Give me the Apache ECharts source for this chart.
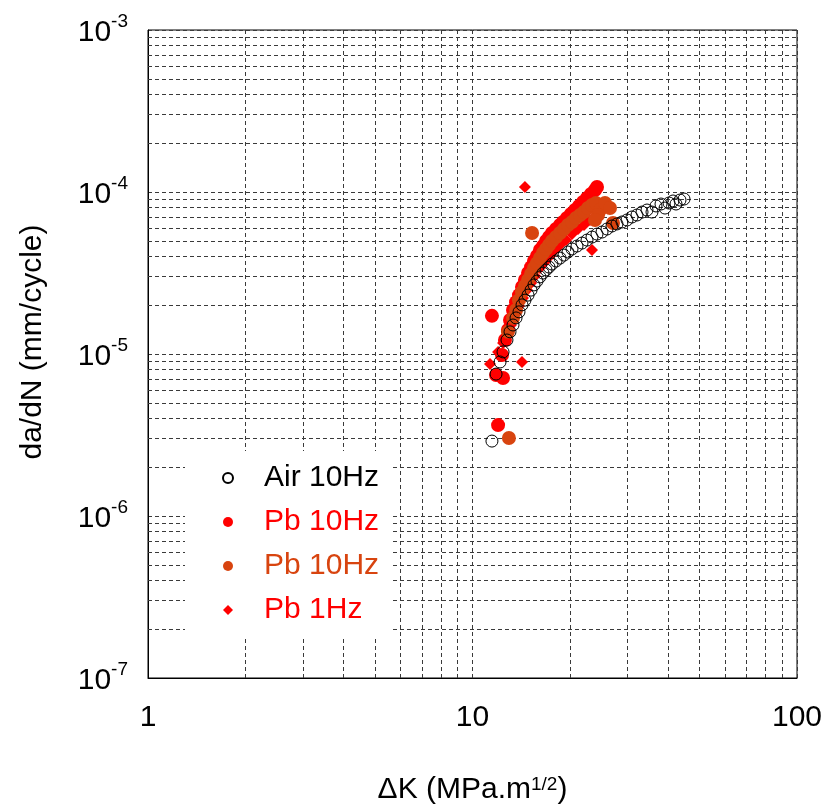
<!DOCTYPE html>
<html>
<head>
<meta charset="utf-8">
<script src="https://cdn.jsdelivr.net/npm/echarts@6/dist/echarts.min.js"></script>
<style>html,body{margin:0;padding:0;background:#fff}#c{width:826px;height:810px}</style>
</head>
<body>
<div id="c"></div>
<script>
// ΔK (MPa.m^1/2) and da/dN (mm/cycle) pairs
const airK = [11.48,11.82,12.16,12.42,12.77,13.05,13.33,13.62,13.91,14.21,14.51,14.83,15.15,15.47,15.80,16.14,16.49,16.85,17.21,17.58,18.09,18.61,19.14,19.69,20.26,20.99,21.75,22.54,23.35,24.19,25.07,25.97,26.91,27.88,28.89,29.94,31.01,32.13,33.30,34.50,35.74,36.77,38.10,39.20,40.33,41.49,42.38,43.60,44.86];
const airR = [2.90e-6,7.52e-6,8.93e-6,1.03e-5,1.22e-5,1.37e-5,1.51e-5,1.67e-5,1.82e-5,2.01e-5,2.15e-5,2.31e-5,2.48e-5,2.67e-5,2.82e-5,2.99e-5,3.16e-5,3.30e-5,3.44e-5,3.59e-5,3.75e-5,3.91e-5,4.08e-5,4.26e-5,4.45e-5,4.64e-5,4.84e-5,5.05e-5,5.27e-5,5.50e-5,5.66e-5,5.91e-5,6.17e-5,6.35e-5,6.53e-5,6.72e-5,7.01e-5,7.21e-5,7.52e-5,7.74e-5,7.52e-5,8.20e-5,8.43e-5,7.96e-5,8.55e-5,8.80e-5,8.43e-5,8.92e-5,9.05e-5];

const pbRedK = [11.48,11.99,11.82,12.42,12.33,12.59,12.86,13.05,13.33,13.62,13.91,14.21,14.51,14.83,15.15,15.47,15.80,16.14,16.49,16.85,17.21,17.58,18.09,18.61,19.01,19.55,20.11,20.70,21.29,21.91,22.54,23.19,23.85,24.19];
const pbRedR = [1.72e-5,3.64e-6,7.42e-6,7.11e-6,9.86e-6,1.22e-5,1.41e-5,1.62e-5,1.87e-5,2.09e-5,2.31e-5,2.59e-5,2.86e-5,3.16e-5,3.44e-5,3.75e-5,4.03e-5,4.39e-5,4.64e-5,4.98e-5,5.27e-5,5.58e-5,5.91e-5,6.26e-5,6.53e-5,6.91e-5,7.31e-5,7.74e-5,8.20e-5,8.68e-5,9.18e-5,9.72e-5,1.029e-4,1.074e-4];

const pbOrangeK = [12.95,15.26,12.86,13.33,13.62,13.91,14.21,14.51,14.83,15.15,15.47,15.80,16.14,16.49,16.85,17.21,17.58,18.09,18.61,19.14,19.69,20.26,20.84,21.45,22.06,22.70,23.35,24.02,24.71,25.61,26.53,27.10,24.37,23.85];
const pbOrangeR = [3.03e-6,5.58e-5,1.37e-5,1.67e-5,1.87e-5,2.15e-5,2.41e-5,2.63e-5,2.86e-5,3.12e-5,3.40e-5,3.64e-5,3.91e-5,4.20e-5,4.45e-5,4.71e-5,4.98e-5,5.27e-5,5.58e-5,5.91e-5,6.26e-5,6.53e-5,6.91e-5,7.21e-5,7.52e-5,7.96e-5,8.31e-5,8.55e-5,7.74e-5,8.55e-5,7.96e-5,6.44e-5,7.21e-5,6.72e-5];

const pb1K = [14.51,23.35,14.21,11.32,11.99,12.42,12.77,13.14,13.52,13.91,14.31,14.72,15.15,15.58,16.14,16.73,17.34,17.96,18.61,19.42,20.26,21.14,22.06,23.02,24.02];
const pb1R = [1.074e-4,4.39e-5,8.93e-6,8.68e-6,1.03e-5,1.17e-5,1.31e-5,1.51e-5,1.74e-5,1.98e-5,2.22e-5,2.48e-5,2.74e-5,3.03e-5,3.40e-5,3.70e-5,4.03e-5,4.39e-5,4.71e-5,5.05e-5,5.50e-5,5.91e-5,6.26e-5,6.72e-5,7.11e-5];

const seriesNames = ['Air 10Hz', 'Pb 10Hz', 'Pb 10Hz ', 'Pb 1Hz'];
const seriesColors = ['#000000', '#ff0000', '#d8440f', '#ff0000'];
const xTickLabels = ['1', '10', '100'];
const minorMantissas = [2,3,4,5,6,7,8,9];
const xDecades = [1, 10];
const yDecades = [1e-7, 1e-6, 1e-5, 1e-4];
const X_MIN = 1, X_MAX = 100, Y_MIN = 1e-7, Y_MAX = 1e-3;

const zip = (a, b) => a.map((v, i) => [v, b[i]]);
const minorLines = [];
xDecades.forEach(d => minorMantissas.forEach(m => minorLines.push([{coord: [m * d, Y_MIN]}, {coord: [m * d, Y_MAX]}])));
yDecades.forEach(d => minorMantissas.forEach(m => minorLines.push([{coord: [X_MIN, m * d]}, {coord: [X_MAX, m * d]}])));

const FONT = 'Liberation Sans, Arial, sans-serif';
const gridDash = [4, 3];
const gridColor = '#3a3a3a';

const chart = echarts.init(document.getElementById('c'), null, {renderer: 'canvas'});
chart.setOption({
  animation: false,
  backgroundColor: '#fff',
  grid: {left: 148, right: 29, top: 30, bottom: 132, show: true, borderColor: '#000', borderWidth: 1, backgroundColor: 'transparent'},
  xAxis: {
    type: 'log', logBase: 10, min: X_MIN, max: X_MAX,
    axisLine: {show: true, lineStyle: {color: '#000', width: 1}},
    axisTick: {show: false},
    splitLine: {show: true, lineStyle: {type: gridDash, color: gridColor, width: 1}},
    axisLabel: {
      margin: 25, fontSize: 30, fontFamily: FONT, color: '#000', showMaxLabel: true, showMinLabel: true,
      formatter: v => xTickLabels[Math.round(Math.log10(v))]
    },
    name: 'ΔK (MPa.m{s|1/2})',
    nameLocation: 'middle', nameGap: 97,
    nameTextStyle: {fontSize: 30, fontFamily: FONT, color: '#000',
      rich: {s: {fontSize: 19, fontFamily: FONT, color: '#000', verticalAlign: 'top'}}}
  },
  yAxis: {
    type: 'log', logBase: 10, min: Y_MIN, max: Y_MAX,
    axisLine: {show: true, lineStyle: {color: '#000', width: 1}},
    axisTick: {show: false},
    splitLine: {show: true, lineStyle: {type: gridDash, color: gridColor, width: 1}},
    axisLabel: {
      margin: 20, fontFamily: FONT, color: '#000',
      formatter: v => '{b|10}{s|' + Math.round(Math.log10(v)) + '}',
      rich: {
        b: {fontSize: 30, fontFamily: FONT, color: '#000', lineHeight: 36, verticalAlign: 'bottom'},
        s: {fontSize: 19, fontFamily: FONT, color: '#000', verticalAlign: 'top'}
      }
    },
    name: 'da/dN (mm/cycle)',
    nameLocation: 'middle', nameGap: 100, nameRotate: 90,
    nameTextStyle: {fontSize: 30, fontFamily: FONT, color: '#000', padding: [0, 0, 0, 24]}
  },
  legend: {
    orient: 'vertical', left: 185, top: 451, z: 20,
    backgroundColor: '#fff',
    padding: [12, 4, 12, 37],
    itemWidth: 10, itemHeight: 10, itemGap: 14,
    selectedMode: false,
    textStyle: {fontSize: 30, fontFamily: FONT, lineHeight: 30, padding: [0, 0, 0, 26]},
    data: seriesNames.map((n, i) => ({name: n, textStyle: {color: seriesColors[i]}}))
  },
  series: [
    {type: 'scatter', name: '_grid', data: [], silent: true, z: 1,
     markLine: {silent: true, z: 1, symbol: ['none', 'none'], label: {show: false},
       lineStyle: {type: gridDash, color: gridColor, width: 1}, emphasis: {disabled: true},
       data: minorLines}},
    {type: 'scatter', name: seriesNames[1], z: 2, symbol: 'circle', symbolSize: 14,
     itemStyle: {color: seriesColors[1], opacity: 1}, data: zip(pbRedK, pbRedR)},
    {type: 'scatter', name: seriesNames[3], z: 3, symbol: 'diamond', symbolSize: 12,
     itemStyle: {color: seriesColors[3], opacity: 1}, data: zip(pb1K, pb1R)},
    {type: 'scatter', name: seriesNames[2], z: 4, symbol: 'circle', symbolSize: 14,
     itemStyle: {color: seriesColors[2], opacity: 1}, data: zip(pbOrangeK, pbOrangeR)},
    {type: 'scatter', name: seriesNames[0], z: 5, symbol: 'circle', symbolSize: 12,
     itemStyle: {color: 'rgba(255,255,255,0)', borderColor: '#000', borderWidth: 1, opacity: 1},
     data: zip(airK, airR)}
  ]
});
</script>
</body>
</html>
